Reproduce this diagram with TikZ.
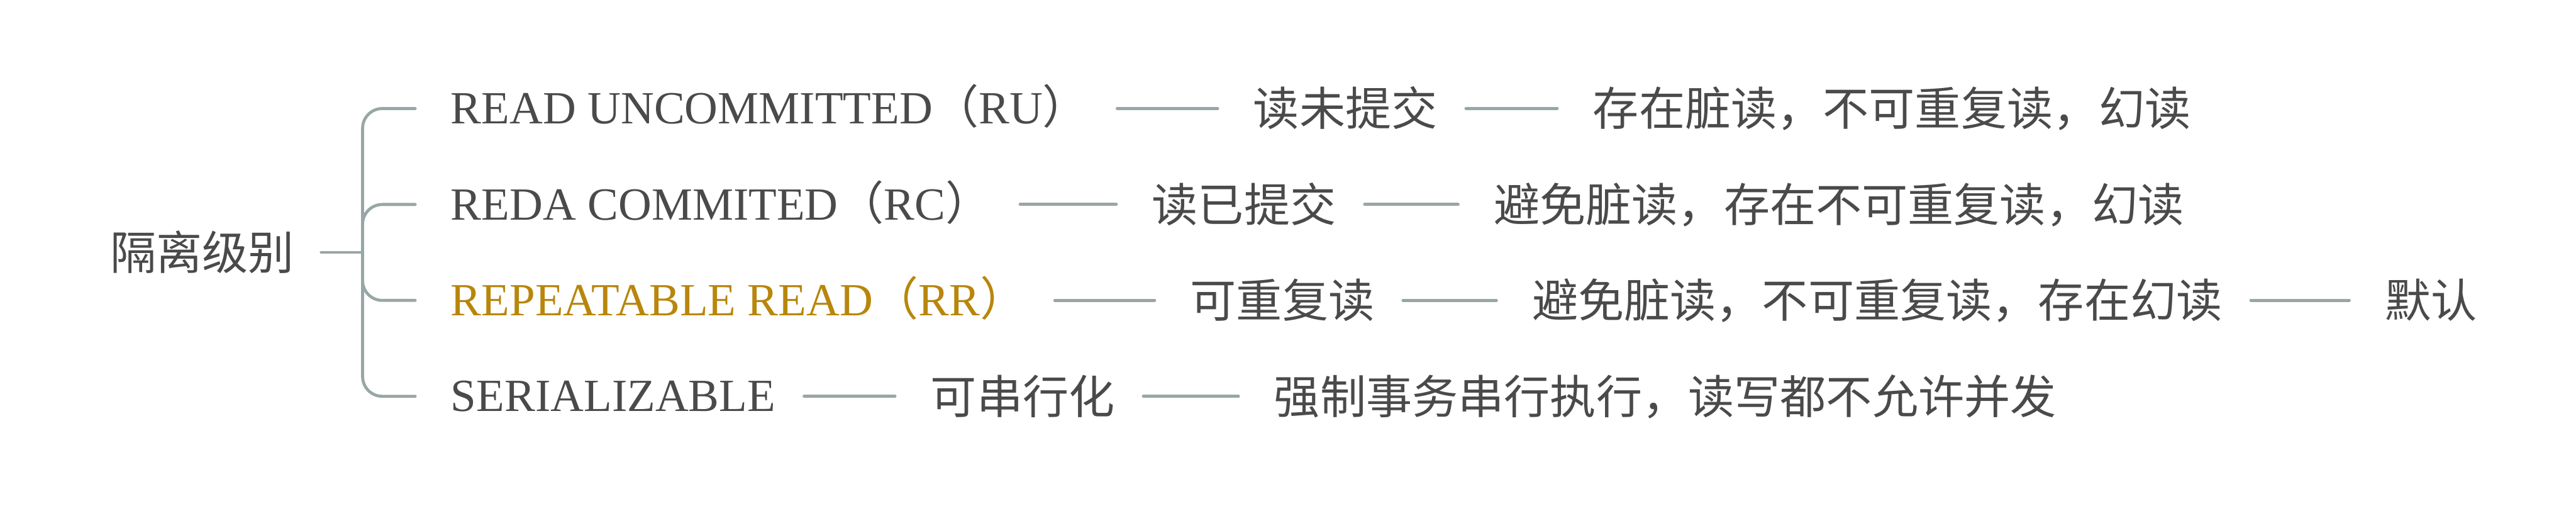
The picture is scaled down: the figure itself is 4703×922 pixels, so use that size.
\documentclass[tikz,border=0pt]{standalone}
\usepackage{fontspec}
\setmainfont{Liberation Serif}
\newfontfamily\cjk{Noto Sans CJK SC}
\definecolor{txt}{HTML}{4A4A4A}
\definecolor{gold}{HTML}{B8860B}
\definecolor{lnc}{HTML}{98A7A6}
\tikzset{
  latin/.style={anchor=west, inner sep=0pt, text height=55.6pt, text depth=0pt,
    font=\fontsize{84}{100}\selectfont, text=txt},
  cjkt/.style={anchor=west, inner sep=0pt, text height=63pt, text depth=0pt,
    font=\fontsize{84}{100}\selectfont\cjk, text=txt},
  conn/.style={draw=lnc, line width=5.5pt, line cap=round},
  link/.style={conn, shorten <=52pt, shorten >=65pt},
  branch/.style={conn, rounded corners=36pt}
}
\begin{document}
\begin{tikzpicture}[x=1pt,y=-1pt]
\useasboundingbox (0,0) rectangle (4703,922);
% root
\node[cjkt] (root) at (201,460.5) {隔离级别};
\coordinate (j) at (662,460.5);
% row 1
\node[latin] (L1) at (823,198) {READ UNCOMMITTED{\cjk（}RU{\cjk）}};
\node[cjkt] (a1) at (2288,198) {读未提交};
\node[cjkt] (b1) at (2908,198) {存在脏读，不可重复读，幻读};
% row 2
\node[latin] (L2) at (823,373) {REDA COMMITED{\cjk（}RC{\cjk）}};
\node[cjkt] (a2) at (2103,373) {读已提交};
\node[cjkt] (b2) at (2727,373) {避免脏读，存在不可重复读，幻读};
% row 3
\node[latin, text=gold] (L3) at (823,548) {REPEATABLE READ{\cjk（}RR{\cjk）}};
\node[cjkt] (a3) at (2173,548) {可重复读};
\node[cjkt] (b3) at (2797,548) {避免脏读，不可重复读，存在幻读};
\node[cjkt] (c3) at (4354,548) {默认};
% row 4
\node[latin] (L4) at (823,723) {SERIALIZABLE};
\node[cjkt] (a4) at (1699,723) {可串行化};
\node[cjkt] (b4) at (2326,723) {强制事务串行执行，读写都不允许并发};
% bracket
\draw[conn, shorten <=49pt] (root.east) -- (j);
\draw[branch] (j) |- ([xshift=-65pt]L1.west);
\draw[branch] (j) |- ([xshift=-65pt]L2.west);
\draw[branch] (j) |- ([xshift=-65pt]L3.west);
\draw[branch] (j) |- ([xshift=-65pt]L4.west);
% links
\draw[link] (L1) -- (a1);
\draw[link] (a1) -- (b1);
\draw[link] (L2) -- (a2);
\draw[link] (a2) -- (b2);
\draw[link] (L3) -- (a3);
\draw[link] (a3) -- (b3);
\draw[link] (b3) -- (c3);
\draw[link] (L4) -- (a4);
\draw[link] (a4) -- (b4);
\end{tikzpicture}
\end{document}
